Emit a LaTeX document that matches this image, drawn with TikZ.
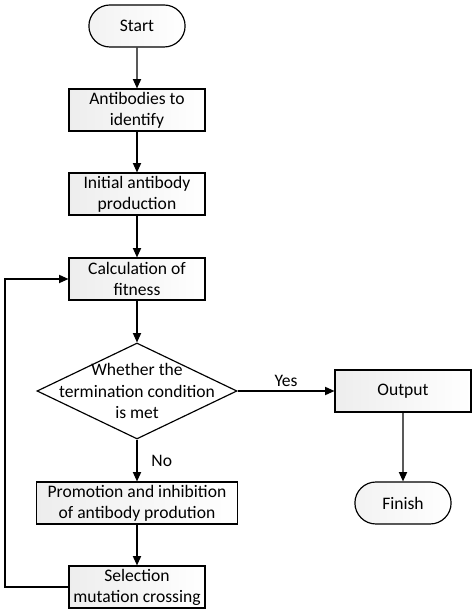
\documentclass[tikz,border=0pt]{standalone}
\usepackage{fontspec}
\setmainfont{Carlito}
\usepackage{tikz}
\usetikzlibrary{arrows.meta, shapes.geometric, shapes.misc, calc, positioning}

\tikzset{
    proc/.style={draw, line width=1pt, left color=gray!14, right color=white, minimum width=4.08cm, minimum height=1.26cm, align=center, inner sep=1pt},
    term/.style={draw, line width=1pt, rounded rectangle, left color=gray!10, right color=white, minimum width=3.12cm, minimum height=1.26cm},
    cond/.style={draw, line width=1pt, diamond, fill=white, minimum width=6cm, minimum height=2.88cm, inner sep=0pt},
    flow/.style={->, line width=1pt, >={Triangle[length=8pt, width=7pt]}}
}

\begin{document}
\begin{tikzpicture}[font=\fontsize{15}{18}\selectfont]
                            \useasboundingbox (0, 0) rectangle (14.22, 18.39);

                            \node[term] (start) at (4.11, 17.61) {Start};
                            \node[proc] (ident) at (4.11, 15.09) {Antibodies to\\identify};
                            \node[proc] (init) at (4.11, 12.57) {Initial antibody\\production};
                            \node[proc] (fit) at (4.11, 10.02) {Calculation of\\fitness};
                            \node[cond] (check) at (4.11, 6.66) {};
                            \node[align=center] (checktext) at (check) {Whether the\\termination condition\\is met};
                            \node[proc] (out) at (12.09, 6.66) {Output};
                            \node[term] (finish) at (12.09, 3.30) {Finish};
                            \node[proc, minimum width=6.03cm] (promo) at (4.11, 3.30) {Promotion and inhibition\\of antibody prodution};
                            \node[proc] (sel) at (4.11, 0.78) {Selection\\mutation crossing};

                            \coordinate (back) at (0.15, 0.78);

                            \draw[flow]
                            (start) edge (ident)
                            (ident) edge (init)
                            (init) edge (fit)
                            (fit) edge (check)
                            (check) edge node[above] {Yes} (out)
                            (check) edge node[right=0.3cm] {No} (promo)
                            (promo) edge (sel)
                            (out) edge (finish);

                            \draw[flow] (sel.west) -- (back) |- (fit.west);
                        \end{tikzpicture}
\end{document}
